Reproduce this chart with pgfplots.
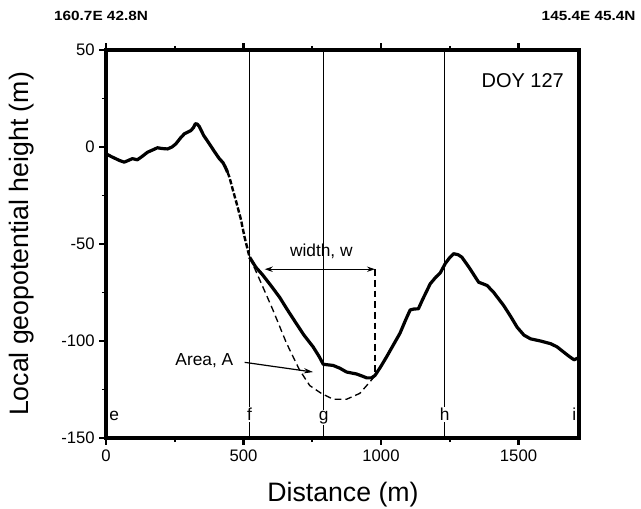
\documentclass[border=0pt]{standalone}
\usepackage{pgfplots}
\pgfplotsset{compat=1.18}
\usepackage{fontspec}
\setmainfont{Liberation Sans}
\usetikzlibrary{arrows.meta}
\begin{document}
\begin{tikzpicture}
\begin{axis}[
  scale only axis, width=354.75pt, height=291pt,
  xmin=0, xmax=1720, ymin=-150, ymax=50,
  clip=false,
  axis line style={line width=2.2pt},
  xtick={0,500,1000,1500}, minor xtick={250,750,1250},
  ytick={-150,-100,-50,0,50}, minor ytick={-125,-75,-25,25},
  xtick pos=both, xticklabel pos=bottom, ytick pos=left,
  tick align=outside,
  major tick length=5pt, minor tick length=3pt,
  major tick style={black, line width=1.6pt},
  minor tick style={black, line width=1.3pt},
  /pgf/number format/assume math mode=true,
  /pgf/number format/set thousands separator={},
  tick label style={font=\fontsize{12.5}{14}\selectfont},
  xlabel={Distance (m)}, ylabel={Local geopotential height (m)},
  xlabel style={font=\fontsize{20}{24}\selectfont, at={(axis description cs:0.501,-0.147)}, anchor=center},
  ylabel style={font=\fontsize{20}{24}\selectfont, at={(axis description cs:-0.178,0.5)}, anchor=center, rotate=0},
]
% vertical reference lines
\addplot[black, line width=0.6pt] coordinates {(522,-150) (522,50)};
\addplot[black, line width=0.6pt] coordinates {(792,-150) (792,50)};
\addplot[black, line width=0.6pt] coordinates {(1232,-150) (1232,50)};
% point labels (white background breaks the lines)
\node[font=\fontsize{13}{15}\selectfont, fill=white, inner sep=1pt, anchor=base] at (axis cs:522,-141) {f};
\node[font=\fontsize{13}{15}\selectfont, fill=white, inner sep=1pt, anchor=base] at (axis cs:792,-141) {g};
\node[font=\fontsize{13}{15}\selectfont, fill=white, inner sep=1pt, anchor=base] at (axis cs:1232,-141) {h};
\node[font=\fontsize{13}{15}\selectfont, inner sep=1pt, anchor=base] at (axis cs:30,-141) {e};
\node[font=\fontsize{13}{15}\selectfont, inner sep=1pt, anchor=base] at (axis cs:1703,-141) {i};
% heavy frame
\addplot[black, line width=2.6pt, line cap=rect] coordinates {(0,-150) (0,50) (1720,50) (1720,-150) (0,-150)};
% fitted depression (dashed)
\addplot[black, line width=1pt, dash pattern=on 5pt off 3pt] coordinates {
(522,-56.8) (545,-64) (570,-72) (607,-84) (656,-101) (704,-115) (741,-123) (783,-127) (826,-130) (875,-130) (923,-127) (960,-121) (978,-118)};
% width marker
\addplot[black, line width=1pt, dash pattern=on 5pt off 3pt] coordinates {(978,-63) (978,-118)};
\draw[{Stealth[length=6pt,width=4pt]}-{Stealth[length=6pt,width=4pt]}, line width=0.9pt] (axis cs:577,-63) -- (axis cs:978,-63);
\node[font=\fontsize{13}{15}\selectfont] at (axis cs:783,-54) {width, w};
% area arrow
\draw[-{Stealth[length=7pt,width=4pt]}, line width=0.9pt] (axis cs:504,-111) -- (axis cs:753,-116);
\node[font=\fontsize{13}{15}\selectfont, anchor=east] at (axis cs:480,-110) {Area, A};
% main curve
\addplot[black, line width=2.4pt, line join=round] coordinates {
(0,-3.5) (20,-5) (35,-6) (50,-7) (66,-7.8) (80,-7) (96,-6) (114,-6.6) (130,-5) (151,-2.7) (170,-1.5) (187,-0.4) (205,-0.8) (224,-1) (240,0) (254,1.6) (270,4.5) (285,6.8) (309,8.5) (318,10) (325,12) (332,11.8) (339,10.6) (355,6) (376,1.6) (395,-2.5) (412,-6) (425,-8) (434,-10.4) (442,-13)};
\addplot[black, line width=1.8pt, dash pattern=on 4pt off 1.5pt] coordinates {
(442,-13) (449,-15.6) (461,-22) (473,-28) (490,-37) (504,-46.5) (522,-56.8)};
\addplot[black, line width=2.4pt, line join=round] coordinates {
(522,-56.8) (545,-62) (570,-66) (600,-71.5) (631,-77.4) (660,-84) (692,-91) (720,-97) (753,-103) (775,-108) (790,-112) (826,-112.6) (850,-114) (875,-116) (911,-117) (930,-118) (948,-119) (965,-119) (978,-117.8) (1000,-113) (1021,-108) (1045,-102) (1069,-96) (1090,-89) (1106,-84) (1120,-83.5) (1136,-83.4) (1150,-79) (1179,-70.5) (1200,-67) (1215,-65) (1234,-60) (1250,-57) (1264,-55) (1280,-55.5) (1294,-56.8) (1320,-62) (1355,-69.7) (1370,-70.5) (1386,-71.4) (1410,-75) (1446,-81.7) (1470,-87) (1495,-92.9) (1520,-97) (1544,-98.9) (1580,-100) (1617,-101.4) (1640,-103) (1665,-105.8) (1685,-108) (1702,-109.7) (1720,-108.5)};
% DOY label
\node[font=\fontsize{15}{18}\selectfont, anchor=east] at (axis cs:1682,34) {DOY 127};
% top location labels
\node[font=\bfseries\fontsize{10}{12}\selectfont] at (axis cs:-18,67.5) {\scalebox{1.15}[1]{160.7E 42.8N}};
\node[font=\bfseries\fontsize{10}{12}\selectfont] at (axis cs:1755,67.5) {\scalebox{1.15}[1]{145.4E 45.4N}};
\end{axis}
\path (current axis.south west) +(-79.5pt,-53.25pt) coordinate (bl);
\path (current axis.north east) +(46.5pt,37.5pt) coordinate (tr);
\pgfresetboundingbox
\useasboundingbox (bl) rectangle (tr);
\end{tikzpicture}
\end{document}
